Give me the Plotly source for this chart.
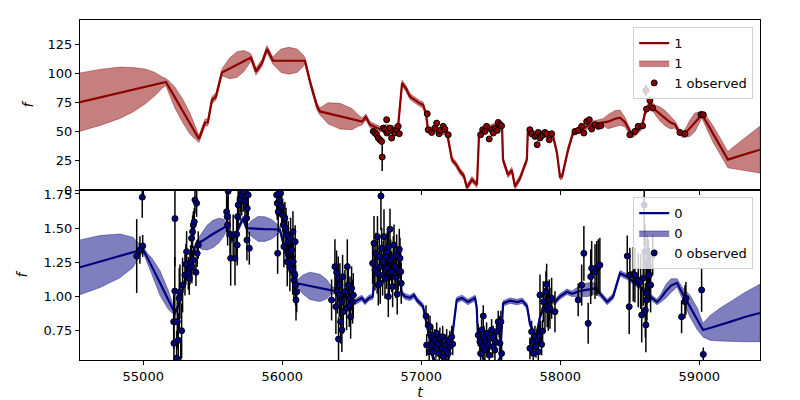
import plotly.graph_objects as go
from plotly.subplots import make_subplots

# ---------------- series "1" (top panel) ----------------
t1_pred = [54545, 54689, 54832, 54926, 55012, 55084, 55134, 55163,
           55192, 55228, 55286, 55336, 55379, 55401,
           55444, 55465, 55494, 55523, 55566,
           55587, 55623, 55674, 55724, 55760, 55775,
           55811, 55854, 55890, 55933,
           55955, 55991, 56048, 56106, 56142, 56163,
           56206, 56250, 56271,
           56293, 56329, 56415, 56502, 56545, 56574,
           56602, 56631, 56667, 56703, 56746, 56789, 56832,
           56847, 56862, 56890, 56919, 56955, 56991, 57013,
           57034, 57049, 57099, 57142, 57185,
           57221, 57250, 57279, 57307, 57329, 57365, 57401, 57415,
           57437, 57494, 57552, 57581,
           57588, 57624, 57652, 57674, 57710, 57731, 57760,
           57767, 57818, 57890, 57947,
           57976, 57998, 58013, 58056,
           58092, 58157, 58214,
           58308, 58344, 58394, 58430, 58466, 58488,
           58516, 58552, 58588, 58610, 58646,
           58682, 58718, 58754, 58790, 58826,
           58854, 58883, 58904, 58933, 58969, 58998,
           59019, 59048, 59098, 59149, 59206,
           59256, 59328, 59379, 59436]
mean1 = [75.3, 79.3, 83.3, 85.9, 88.6, 90.7, 92.0, 92.5,
         86.6, 79.1, 67.3, 56.9, 48.0, 43.7,
         57.6, 58.0, 77.0, 80.0, 100.7,
         102.0, 104.3, 107.4, 110.5, 112.7, 113.5,
         101.5, 108.7, 120.7, 110.7,
         110.7, 110.7, 110.7, 110.7, 110.7, 110.7,
         90.0, 71.6, 67.3,
         66.7, 65.7, 63.2, 60.7, 59.5, 58.7,
         62.5, 56.0, 54.0, 52.0, 53.5, 52.5, 53.0,
         70.0, 91.6, 87.0, 80.0, 77.0, 74.0, 73.0,
         65.0, 51.5, 51.5, 50.0, 49.0,
         26.0, 22.0, 16.0, 12.0, 2.0, 9.0, 4.5, 45.6,
         51.5, 53.0, 56.0, 56.0,
         26.0, 13.0, 17.0, 3.0, 10.0, 17.4, 26.0,
         51.5, 48.0, 48.0, 47.0,
         32.0, 11.4, 11.4, 34.4,
         49.0, 52.0, 56.0,
         58.0, 58.5, 61.0, 62.0, 58.0, 53.0,
         47.0, 50.0, 54.5, 66.0, 74.7,
         68.7, 65.0, 61.5, 58.0, 56.0,
         50.0, 47.3, 49.2, 53.0, 58.0, 62.0,
         64.5, 59.0, 48.2, 37.8, 26.0,
         27.9, 30.5, 32.5, 34.5]
halfwidth1 = [25, 24, 22, 19, 15, 10, 5, 3,
              6, 9, 10, 9, 5, 3,
              3, 3, 3, 3, 3,
              5, 9, 11, 9, 5, 3,
              3, 3, 3, 3,
              6, 10, 11.5, 10, 6, 3,
              3, 3, 3,
              5, 9, 11, 9, 5, 3,
              2.5, 2.5, 2.5, 2.5, 2.5, 2.5, 2.5,
              2.5, 2.5, 2.5, 2.5, 2.5, 2.5, 2.5,
              2.5, 2.5, 2.5, 2.5, 2.5,
              2.5, 2.5, 2.5, 2.5, 2.5, 2.5, 2.5, 2.5,
              2.5, 2.5, 2.5, 2.5,
              2.5, 2.5, 2.5, 2.5, 2.5, 2.5, 2.5,
              2.5, 2.5, 2.5, 2.5,
              2.5, 2.5, 2.5, 2.5,
              2.5, 2.5, 2.5,
              3, 6, 7, 6.5, 4, 3,
              2.5, 2.5, 2.5, 2.5, 2.5,
              4, 6, 6.5, 5.5, 3,
              2.5, 2.5, 4, 7, 8, 5,
              3, 5, 7, 7, 7,
              10, 14, 17, 20]

t1_obs = [56655, 56667, 56679, 56691, 56703, 56715, 56719, 56727, 56739, 56751,
          56753, 56763, 56775, 56787, 56799, 56811, 56823, 56834, 56842,
          57043, 57050, 57075, 57098, 57111, 57129, 57134, 57158, 57170, 57194,
          57427, 57442, 57458, 57470, 57489, 57506, 57518, 57530, 57547, 57554, 57566, 57578,
          57782, 57794, 57818, 57830, 57834, 57842, 57854, 57866, 57878, 57890, 57902, 57921, 57938,
          58106, 58129, 58154, 58170, 58190, 58209, 58226, 58250, 58273, 58291,
          58501, 58537, 58561, 58593, 58616, 58621, 58645, 58665,
          58861, 58897, 59012, 59029]
f1_obs = [50.2, 48.8, 47.3, 44.5, 43.0, 41.6, 28.2, 53.0, 51.6, 60.2,
          48.8, 50.2, 53.0, 44.5, 50.2, 48.8, 51.6, 54.5, 48.2,
          65.3, 51.6, 49.3, 53.0, 57.3, 48.2, 51.0, 54.5, 52.2, 47.3,
          47.3, 51.6, 50.2, 54.5, 43.7, 51.6, 48.8, 53.0, 51.0, 57.9, 55.9, 55.0,
          51.6, 48.2, 45.9, 47.3, 38.8, 49.3, 44.5, 46.5, 47.3, 49.3, 48.2, 43.0, 48.2,
          50.2, 51.0, 54.5, 48.8, 58.7, 60.2, 52.2, 55.9, 54.5, 55.0,
          47.3, 50.2, 54.5, 55.0, 85.3, 69.3, 76.7, 70.2,
          49.3, 48.2, 64.5, 64.5]
e1_obs = [1.5, 1.5, 1.5, 1.5, 1.5, 1.5, 12.0, 1.5, 1.5, 1.5,
          1.5, 1.5, 1.5, 1.5, 1.5, 1.5, 1.5, 1.5, 1.5,
          1.5, 1.5, 1.5, 1.5, 1.5, 1.5, 1.5, 1.5, 1.5, 1.5,
          1.5, 1.5, 1.5, 1.5, 1.5, 1.5, 1.5, 1.5, 1.5, 1.5, 1.5, 1.5,
          1.5, 1.5, 1.5, 1.5, 1.5, 1.5, 1.5, 1.5, 1.5, 1.5, 1.5, 1.5, 1.5,
          1.5, 1.5, 1.5, 1.5, 1.5, 1.5, 1.5, 1.5, 1.5, 1.5,
          1.5, 1.5, 1.5, 1.5, 5.0, 1.5, 1.5, 1.5,
          1.5, 1.5, 1.5, 1.5]

# ---------------- series "0" (bottom panel) ----------------
t0_pred = [54545, 54689, 54832, 54926, 54976, 54998, 55027, 55063, 55120, 55178,
           55228, 55264, 55312, 55350, 55384, 55422, 55458, 55501, 55545, 55581,
           55600, 55636, 55681, 55717, 55744, 55782, 55825, 55875, 55926, 55962,
           55983, 56007, 56048, 56077, 56104, 56149, 56199, 56271, 56321, 56350,
           56379, 56415, 56451, 56487, 56523, 56545, 56573, 56595, 56624, 56652,
           56667, 56703, 56739, 56775, 56811, 56847, 56859, 56883, 56919, 56948,
           56969, 57012, 57048, 57084, 57135, 57192, 57228, 57255, 57293, 57336,
           57387, 57399, 57409, 57459, 57531, 57567, 57589, 57639, 57690, 57726,
           57761, 57782, 57794, 57825, 57854, 57876, 57926, 57962, 57998, 58048,
           58084, 58142, 58199, 58250, 58286, 58337, 58380, 58430, 58481, 58538,
           58588, 58646, 58696, 58725, 58761, 58797, 58840, 58876, 58933, 58984,
           59027, 59077, 59149, 59221, 59328, 59436]
mean0 = [1.214, 1.256, 1.297, 1.323, 1.338, 1.345, 1.29, 1.22, 1.10, 0.98,
         0.88, 0.96, 1.18, 1.30, 1.39, 1.405, 1.43, 1.457, 1.483, 1.505,
         1.51, 1.41, 1.49, 1.57, 1.50, 1.497, 1.495, 1.493, 1.492, 1.49,
         1.49, 1.39, 1.22, 1.145, 1.097, 1.088, 1.078, 1.063, 1.053, 1.048,
         1.04, 1.02, 1.0, 0.98, 0.96, 0.975, 0.99, 0.96, 0.99, 1.0,
         1.27, 1.30, 1.24, 1.28, 1.22, 1.20, 1.025, 1.0, 0.99, 1.01,
         0.975, 0.93, 0.755, 0.55, 0.50, 0.52, 0.75, 0.975, 0.99, 0.96,
         0.99, 0.92, 0.68, 0.50, 0.48, 0.55, 0.95, 0.97, 0.96, 0.97,
         0.93, 0.80, 0.77, 0.70, 0.85, 0.915, 0.975, 0.96, 1.0, 1.035,
         1.02, 1.04, 1.05, 1.06, 1.02, 0.96, 1.0, 1.17, 1.145, 1.10,
         1.06, 1.0, 0.96, 0.99, 1.04, 1.08, 1.10, 1.03, 0.93, 0.84,
         0.755, 0.77, 0.795, 0.815, 0.85, 0.88]
halfwidth0 = [0.20, 0.19, 0.16, 0.11, 0.04, 0.02, 0.03, 0.06, 0.09, 0.07,
              0.02, 0.02, 0.02, 0.02, 0.02, 0.06, 0.09, 0.10, 0.09, 0.06,
              0.02, 0.02, 0.02, 0.02, 0.02, 0.06, 0.09, 0.09, 0.07, 0.04,
              0.02, 0.02, 0.02, 0.02, 0.02, 0.07, 0.10, 0.10, 0.07, 0.03,
              0.02, 0.02, 0.02, 0.02, 0.02, 0.02, 0.02, 0.02, 0.02, 0.02,
              0.02, 0.02, 0.02, 0.02, 0.02, 0.02, 0.02, 0.02, 0.02, 0.02,
              0.02, 0.02, 0.02, 0.02, 0.02, 0.02, 0.02, 0.02, 0.02, 0.02,
              0.02, 0.02, 0.02, 0.02, 0.02, 0.02, 0.02, 0.02, 0.02, 0.02,
              0.02, 0.02, 0.02, 0.02, 0.02, 0.02, 0.02, 0.02, 0.02, 0.02,
              0.02, 0.04, 0.05, 0.04, 0.02, 0.02, 0.02, 0.02, 0.02, 0.02,
              0.02, 0.02, 0.02, 0.03, 0.05, 0.05, 0.03, 0.04, 0.08, 0.08,
              0.05, 0.09, 0.12, 0.145, 0.18, 0.21]

t0_obs = [54953, 54976, 54993, 54996, 55219, 55221, 55227, 55228, 55240, 55245,
          55252, 55259, 55264, 55270, 55276, 55283, 55300, 55307, 55312, 55324,
          55331, 55336, 55341, 55348, 55350, 55355, 55360, 55362, 55367, 55372,
          55379, 55384, 55388, 55396,
          55600, 55604, 55607, 55611, 55624, 55629, 55647, 55660, 55672, 55676,
          55679, 55683, 55696, 55700, 55708, 55719, 55732, 55735, 55744, 55746,
          55748, 55755, 55763,
          55960, 55964, 55967, 55971, 55978, 55988, 55996, 56003, 56007, 56012,
          56019, 56027, 56031, 56036, 56043, 56050, 56055, 56060, 56068, 56075,
          56077, 56079, 56084, 56091, 56093, 56096, 56099, 56104,
          56355, 56379, 56386, 56391, 56396, 56403, 56405, 56410, 56415, 56420,
          56427, 56429, 56434, 56439, 56451, 56463, 56468, 56475, 56482, 56487,
          56492, 56499, 56506, 56511,
          56650, 56660, 56667, 56674, 56683, 56685, 56691, 56698, 56703, 56705,
          56710, 56715, 56722, 56727, 56732, 56739, 56746, 56751, 56755, 56763,
          56765, 56770, 56775, 56780, 56787, 56794, 56799, 56804, 56811, 56818,
          56823, 56827, 56834, 56842, 56847, 56852, 56856,
          57034, 57039, 57050, 57057, 57063, 57068, 57075, 57082, 57086, 57090,
          57098, 57106, 57111, 57122, 57129, 57134, 57140, 57147, 57154, 57158,
          57170, 57175, 57178, 57183, 57194, 57201, 57206, 57219, 57226,
          57410, 57422, 57427, 57434, 57442, 57446, 57451, 57458, 57465, 57470,
          57482, 57489, 57494, 57506, 57514, 57518, 57530, 57537, 57542, 57554,
          57561, 57566, 57573, 57578,
          57782, 57794, 57801, 57806, 57818, 57825, 57834, 57842, 57849, 57854,
          57859, 57866, 57873, 57878, 57890, 57897, 57902, 57906, 57914, 57921,
          57926, 57938, 57962,
          58129, 58154, 58170, 58201, 58219, 58226, 58250, 58262, 58273, 58285,
          58482, 58496, 58501, 58525, 58537, 58561, 58578, 58586, 58597, 58604,
          58610, 58612, 58616, 58621, 58623, 58626, 58633, 58640, 58650, 58665,
          58873, 58897, 58904, 59017, 59029]
f0_obs = [1.296, 1.34, 1.726, 1.37, 0.816, 0.658, 1.04, 1.57, 0.55, 0.816,
          0.68, 0.987, 1.035, 0.50, 0.75, 1.084, 1.157, 1.236, 1.328, 1.17,
          1.133, 1.206, 1.255, 1.426, 1.218, 1.474, 1.523, 1.267, 1.547, 1.706,
          1.177, 1.682, 1.316, 1.377,
          1.62, 1.584, 1.523, 1.77, 1.455, 1.28, 1.45, 1.28, 1.455, 1.377,
          1.584, 1.67, 1.706, 1.82, 1.743, 1.77, 1.693, 1.85, 1.572, 1.413,
          1.645, 1.743, 1.353,
          1.743, 1.682, 1.316, 1.62, 1.706, 1.755, 1.657, 1.596, 1.523, 1.365,
          1.572, 1.499, 1.45, 1.255, 1.401, 1.328, 1.218, 1.426, 1.34, 1.194,
          1.474, 1.255, 1.121, 1.157, 1.401, 1.084, 0.975, 1.035,
          0.975, 1.218, 0.926, 1.177, 1.035, 1.133, 0.689, 1.011, 1.084, 0.816,
          0.962, 0.755, 1.145, 0.889, 1.035, 0.914, 1.218, 1.084, 0.938, 0.987,
          0.852, 1.06, 0.962, 1.011,
          1.243, 1.389, 1.194, 1.316, 1.17, 1.438, 1.084, 1.291, 1.218, 1.097,
          1.735, 1.353, 1.157, 1.255, 1.438, 1.133, 1.291, 1.206, 1.328, 1.0,
          1.365, 1.17, 1.492, 1.267, 1.182, 1.072, 1.291, 1.377, 1.218, 1.14,
          1.304, 1.018, 1.194, 1.345, 1.28, 1.182, 1.097,
          0.857, 0.645, 0.79, 0.596, 0.78, 0.72, 0.645, 0.706, 0.596, 0.48,
          0.682, 0.633, 0.731, 0.658, 0.584, 0.694, 0.45, 0.62, 0.706, 0.56,
          0.645, 0.50, 0.609, 0.682, 0.584, 0.633, 0.67, 0.706, 0.653,
          0.718, 0.67, 0.584, 0.755, 0.633, 0.857, 0.706, 0.609, 0.67, 0.731,
          0.645, 0.572, 0.694, 0.755, 0.633, 0.706, 0.609, 0.67, 0.743, 0.816,
          0.779, 0.658, 0.816, 0.584,
          0.621, 0.743, 0.67, 0.584, 0.706, 0.633, 0.682, 0.596, 0.718, 1.011,
          0.743, 0.65, 0.748, 0.962, 0.914, 1.035, 1.09, 0.926, 0.9, 0.975,
          0.914, 0.987, 0.889,
          0.975, 1.084, 1.316, 0.804, 1.145, 1.206, 1.182, 1.206, 1.218, 1.23,
          1.296, 0.926, 1.157, 1.163, 1.157, 1.121, 1.109, 0.865, 1.133, 1.67,
          1.328, 0.9, 0.792, 0.975, 1.024, 1.255, 1.218, 1.157, 1.084, 1.304,
          0.852, 0.962, 0.987, 1.048, 0.577]
e0_obs = [0.27, 0.10, 0.15, 0.08, 0.20, 0.20, 0.25, 0.35, 0.20, 0.20,
          0.20, 0.22, 0.20, 0.20, 0.20, 0.20, 0.15, 0.15, 0.15, 0.12,
          0.12, 0.12, 0.12, 0.12, 0.12, 0.12, 0.10, 0.10, 0.10, 0.10,
          0.10, 0.10, 0.10, 0.10,
          0.15, 0.15, 0.15, 0.20, 0.15, 0.20, 0.15, 0.20, 0.15, 0.15,
          0.15, 0.15, 0.15, 0.20, 0.15, 0.15, 0.15, 0.15, 0.15, 0.15,
          0.15, 0.15, 0.12,
          0.15, 0.12, 0.15, 0.15, 0.12, 0.15, 0.15, 0.12, 0.15, 0.15,
          0.12, 0.15, 0.15, 0.18, 0.15, 0.15, 0.18, 0.15, 0.15, 0.18,
          0.15, 0.15, 0.15, 0.15, 0.12, 0.15, 0.15, 0.15,
          0.15, 0.20, 0.20, 0.16, 0.16, 0.16, 0.16, 0.16, 0.16, 0.16,
          0.16, 0.16, 0.16, 0.16, 0.16, 0.16, 0.20, 0.16, 0.16, 0.16,
          0.16, 0.16, 0.16, 0.16,
          0.15, 0.20, 0.15, 0.15, 0.15, 0.15, 0.15, 0.15, 0.15, 0.15,
          0.25, 0.15, 0.15, 0.15, 0.20, 0.15, 0.15, 0.15, 0.15, 0.15,
          0.15, 0.15, 0.15, 0.15, 0.15, 0.15, 0.15, 0.15, 0.15, 0.15,
          0.15, 0.15, 0.15, 0.15, 0.15, 0.15, 0.15,
          0.08, 0.08, 0.08, 0.08, 0.08, 0.08, 0.08, 0.08, 0.08, 0.08,
          0.08, 0.08, 0.08, 0.08, 0.08, 0.08, 0.08, 0.08, 0.08, 0.08,
          0.08, 0.08, 0.08, 0.08, 0.08, 0.08, 0.08, 0.08, 0.08,
          0.08, 0.08, 0.08, 0.08, 0.08, 0.08, 0.08, 0.08, 0.08, 0.08,
          0.08, 0.08, 0.08, 0.08, 0.08, 0.08, 0.08, 0.08, 0.08, 0.08,
          0.08, 0.08, 0.08, 0.08,
          0.08, 0.08, 0.08, 0.08, 0.08, 0.08, 0.08, 0.08, 0.08, 0.15,
          0.08, 0.08, 0.08, 0.15, 0.15, 0.15, 0.15, 0.15, 0.15, 0.15,
          0.15, 0.15, 0.15,
          0.12, 0.15, 0.20, 0.15, 0.20, 0.20, 0.20, 0.20, 0.20, 0.20,
          0.15, 0.20, 0.20, 0.20, 0.20, 0.20, 0.20, 0.20, 0.20, 0.30,
          0.20, 0.20, 0.20, 0.20, 0.20, 0.20, 0.20, 0.20, 0.20, 0.15,
          0.12, 0.12, 0.12, 0.16, 0.05]

x_ticks = [55000, 56000, 57000, 58000, 59000]
x_ticktext = ["55000", "56000", "57000", "58000", "59000"]
y1_ticks = [0, 25, 50, 75, 100, 125]
y0_ticks = [0.75, 1.00, 1.25, 1.50, 1.75]
y0_ticktext = ["0.75", "1.00", "1.25", "1.50", "1.75"]

FONT = "DejaVu Sans"

fig = make_subplots(rows=2, cols=1, shared_xaxes=True, vertical_spacing=0)


def add_series(row, t_pred, mean, hw, t_obs, f_obs, e_obs, line_color,
               fill_color, name, legend):
    upper = [m + h for m, h in zip(mean, hw)]
    lower = [m - h for m, h in zip(mean, hw)]
    fig.add_trace(go.Scatter(
        x=t_pred + t_pred[::-1], y=upper + lower[::-1], fill="toself",
        fillcolor=fill_color, mode="lines",
        line=dict(color=fill_color, width=0.8),
        name=name, legend=legend, legendrank=2, hoverinfo="skip"),
        row=row, col=1)
    fig.add_trace(go.Scatter(
        x=t_pred, y=mean, mode="lines",
        line=dict(color=line_color, width=2.2),
        name=name, legend=legend, legendrank=1),
        row=row, col=1)
    fig.add_trace(go.Scatter(
        x=t_obs, y=f_obs, mode="markers",
        error_y=dict(type="data", array=e_obs, color="black",
                     thickness=1.5, width=0),
        marker=dict(color=line_color, size=6,
                    line=dict(color="black", width=1)),
        name=name + " observed", legend=legend, legendrank=3),
        row=row, col=1)


add_series(1, t1_pred, mean1, halfwidth1, t1_obs, f1_obs, e1_obs,
           "#8B0000", "rgba(139,0,0,0.5)", "1", "legend")
add_series(2, t0_pred, mean0, halfwidth0, t0_obs, f0_obs, e0_obs,
           "#000080", "rgba(0,0,128,0.5)", "0", "legend2")

axis_common = dict(showline=True, linecolor="black", linewidth=1,
                   mirror=True, ticks="outside", ticklen=4, tickwidth=1,
                   tickcolor="black", showgrid=False, zeroline=False,
                   automargin=False,
                   tickfont=dict(family=FONT, size=13, color="black"))

fig.update_xaxes(range=[54545, 59437], tickvals=x_ticks, ticktext=x_ticktext,
                 **axis_common)
fig.update_xaxes(showticklabels=False, row=1, col=1)
fig.update_xaxes(title=dict(text="<i>t</i>", standoff=8,
                            font=dict(family=FONT, size=14, color="black")),
                 row=2, col=1)
fig.update_yaxes(**axis_common)
fig.update_yaxes(range=[0, 145.6], tickvals=y1_ticks,
                 title=dict(text="<i>f</i>", standoff=10,
                            font=dict(family=FONT, size=14, color="black")),
                 row=1, col=1)
fig.update_yaxes(range=[0.536, 1.779], tickvals=y0_ticks, ticktext=y0_ticktext,
                 title=dict(text="<i>f</i>", standoff=12,
                            font=dict(family=FONT, size=14, color="black")),
                 row=2, col=1)

legend_style = dict(bgcolor="rgba(255,255,255,0.8)", bordercolor="#d0d0d0",
                    borderwidth=1, font=dict(family=FONT, size=13, color="black"),
                    xanchor="right", yanchor="top", x=0.99,
                    tracegroupgap=0, itemwidth=30)

# the page body adds an 8 px offset, so the figure is 792x392 with margins
# chosen to put the plot area at x 80-760, y 20-360 of the window
fig.update_layout(
    width=792, height=392,
    margin=dict(l=72, r=40, t=12, b=40, autoexpand=False),
    paper_bgcolor="white", plot_bgcolor="white",
    showlegend=True,
    legend=dict(y=0.979, **legend_style),
    legend2=dict(y=0.479, **legend_style),
    font=dict(family=FONT, size=13, color="black"),
)

fig.write_html("out.html")
